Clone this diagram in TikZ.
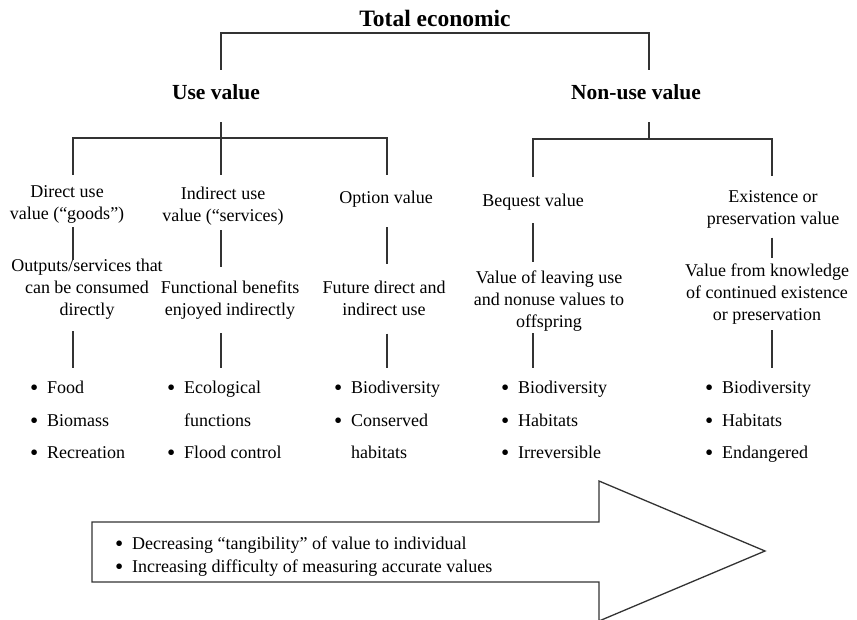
\documentclass[tikz,border=0pt]{standalone}
\usepackage{fontspec}
\setmainfont{Liberation Serif}
\usetikzlibrary{positioning}
\newcommand{\lstitem}[1]{\makebox[17pt][l]{\raisebox{-2pt}{\scalebox{1.3}{\textbullet}}}#1}
\newcommand{\lstcont}[1]{\hspace*{17pt}#1}

\begin{document}
\begin{tikzpicture}[
  x=1pt, y=-1pt,
  myhead/.style={font=\fontsize{21.5}{26}\selectfont\bfseries, inner sep=0pt},
  mytext/.style={font=\fontsize{18}{22}\selectfont, align=center, inner sep=0pt},
  mylist/.style={font=\fontsize{18}{32.5}\selectfont, align=left, inner sep=0pt, anchor=north west},
  myline/.style={line width=1.3pt, draw=black!80}
]
\useasboundingbox (0,0) rectangle (857,619);

% Niveau 0
\node[myhead, font=\fontsize{23.5}{28}\selectfont\bfseries, anchor=south, inner ysep=6.3pt] (title) at (435,33) {Total economic};

% Niveau 1
\node[myhead] (use) at (216,92) {Use value};
\node[myhead] (nonuse) at (636,92) {Non-use value};

% Niveau 2
\node[mytext] (direct) at (67,204) {Direct use\\value (“goods”)};
\node[mytext] (indirect) at (223,206) {Indirect use\\value (“services)};
\node[mytext] (option) at (386,199) {Option value};
\node[mytext] (bequest) at (533,202) {Bequest value};
\node[mytext] (existence) at (773,209.5) {Existence or\\preservation value};

% Niveau 3
\node[mytext] (outputs) at (87,289) {Outputs/services that\\can be consumed\\directly};
\node[mytext] (functional) at (230,300) {Functional benefits\\enjoyed indirectly};
\node[mytext] (future) at (384,298) {Future direct and\\indirect use};
\node[mytext] (leaving) at (549,301) {Value of leaving use\\and nonuse values to\\offspring};
\node[mytext] (knowledge) at (767,294) {Value from knowledge\\of continued existence\\or preservation};

% Listes
\node[mylist] (food) at (30,381) {\lstitem{Food}\\\lstitem{Biomass}\\\lstitem{Recreation}};
\node[mylist] (eco) at (167,381) {\lstitem{Ecological}\\\lstcont{functions}\\\lstitem{Flood control}};
\node[mylist] (biodiv) at (334,381) {\lstitem{Biodiversity}\\\lstitem{Conserved}\\\lstcont{habitats}};
\node[mylist] (beqlist) at (501,381) {\lstitem{Biodiversity}\\\lstitem{Habitats}\\\lstitem{Irreversible}};
\node[mylist] (exlist) at (705,381) {\lstitem{Biodiversity}\\\lstitem{Habitats}\\\lstitem{Endangered}};

% Jonctions
\coordinate (tu) at (221,33);
\coordinate (tn) at (649,33);
\coordinate (u1) at (73,138);
\coordinate (u2) at (221,138);
\coordinate (u3) at (387,138);
\coordinate (n1) at (533,139);
\coordinate (n0) at (649,139);
\coordinate (n2) at (772,139);

% Traits
\draw[myline, shorten <=14.7pt, shorten >=14.7pt] (tu |- use.north) -- (tu) -- (tn) -- (tn |- nonuse.north);
\draw[myline, shorten <=22.7pt] (u2 |- use.south) -- (u2);
\draw[myline, shorten <=10pt, shorten >=16pt] (u1 |- direct.north) -- (u1) -- (u3) -- (u3 |- option.north);
\draw[myline, shorten >=12pt] (u2) -- (u2 |- indirect.north);
\draw[myline, shorten <=22.7pt] (n0 |- nonuse.south) -- (n0);
\draw[myline, shorten <=17pt, shorten >=14pt] (n1 |- bequest.north) -- (n1) -- (n2) -- (n2 |- existence.north);

\draw[myline, shorten <=4pt, shorten >=-1pt] (u1 |- direct.south) -- (u1 |- outputs.north);
\draw[myline, shorten <=5pt, shorten >=14pt] (u2 |- indirect.south) -- (u2 |- functional.north);
\draw[myline, shorten <=20pt, shorten >=16pt] (u3 |- option.south) -- (u3 |- future.north);
\draw[myline, shorten <=13pt, shorten >=9pt] (n1 |- bequest.south) -- (n1 |- leaving.north);
\draw[myline, shorten <=9pt, shorten >=6pt] (n2 |- existence.south) -- (n2 |- knowledge.north);

\draw[myline, shorten <=12pt, shorten >=13pt] (u1 |- outputs.south) -- (u1 |- food.north);
\draw[myline, shorten <=14pt, shorten >=13pt] (u2 |- functional.south) -- (u2 |- eco.north);
\draw[myline, shorten <=18pt, shorten >=13pt] (u3 |- future.south) -- (u3 |- biodiv.north);
\draw[myline, shorten <=2pt, shorten >=13pt] (n1 |- leaving.south) -- (n1 |- beqlist.north);
\draw[myline, shorten <=6pt, shorten >=13pt] (n2 |- knowledge.south) -- (n2 |- exlist.north);

% Fleche
\draw[myline, line join=miter] (92,522) -- (599,522) -- (599,481) -- (765,551) -- (599,621) -- (599,582) -- (92,582) -- cycle;
\node[mytext, font=\fontsize{18}{23}\selectfont, align=left, anchor=north west] (trend) at (115,536.4)
  {\lstitem{Decreasing “tangibility” of value to individual}\\\lstitem{Increasing difficulty of measuring accurate values}};
\end{tikzpicture}
\end{document}
